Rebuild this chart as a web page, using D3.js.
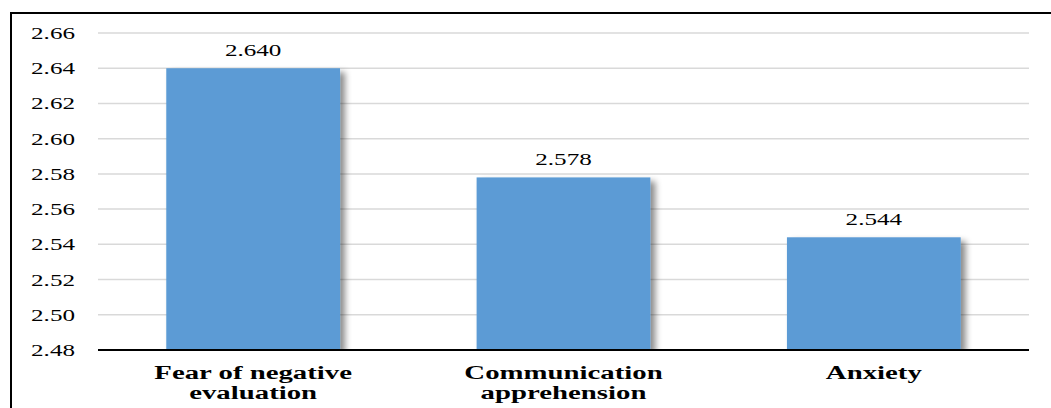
<!DOCTYPE html>
<html><head><meta charset="utf-8">
<script src="https://cdn.jsdelivr.net/npm/d3@7"></script>
<style>body{margin:0;background:#fff;}svg{display:block;}</style>
</head><body>
<svg id="c" width="1051" height="408"></svg>
<script>
const categories = ["Fear of negative evaluation", "Communication apprehension", "Anxiety"];
const categoryLines = [["Fear of negative", "evaluation"], ["Communication", "apprehension"], ["Anxiety"]];
const values = [2.640, 2.578, 2.544];
const valueLabels = ["2.640", "2.578", "2.544"];
const yTicks = [2.48, 2.50, 2.52, 2.54, 2.56, 2.58, 2.60, 2.62, 2.64, 2.66];

const svg = d3.select("#c");
const W = 1051, H = 408;
const m = {left: 98, right: 22, top: 33, bottom: 58};
const x = d3.scaleBand().domain(categories).range([m.left, W - m.right]).paddingInner(0.44).paddingOuter(0.22);
const y = d3.scaleLinear().domain([2.48, 2.66]).range([H - m.bottom, m.top]);
const sx = 1.57;

// frame
svg.append("rect").attr("x", 11).attr("y", 13).attr("width", 1100).attr("height", 500)
  .attr("fill", "none").attr("stroke", "#000").attr("stroke-width", 2);

// shadow filter + clip
const defs = svg.append("defs");
const f = defs.append("filter").attr("id", "sh").attr("x", "-10%").attr("y", "-10%").attr("width", "130%").attr("height", "130%");
f.append("feDropShadow").attr("dx", 5).attr("dy", 4).attr("stdDeviation", 3)
  .attr("flood-color", "#000").attr("flood-opacity", 0.45);
defs.append("clipPath").attr("id", "cp").append("rect")
  .attr("x", m.left).attr("y", 0).attr("width", W - m.left - m.right).attr("height", y(2.48));

// gridlines
svg.append("g").selectAll("line").data(yTicks.slice(1)).join("line")
  .attr("x1", m.left).attr("x2", W - m.right)
  .attr("y1", d => y(d)).attr("y2", d => y(d))
  .attr("stroke", "#d9d9d9").attr("stroke-width", 1.5);

// tick labels
svg.append("g").selectAll("text").data(yTicks).join("text")
  .attr("transform", d => `translate(75,${y(d) + 6}) scale(${sx},1)`)
  .attr("text-anchor", "end")
  .attr("font-family", "Liberation Serif, Times New Roman, serif")
  .attr("font-size", 16).attr("fill", "#000")
  .text(d => d.toFixed(2));

// bars
svg.append("g").attr("clip-path", "url(#cp)").selectAll("rect").data(values).join("rect")
  .attr("x", (d, i) => x(categories[i]))
  .attr("y", d => y(d))
  .attr("width", x.bandwidth())
  .attr("height", d => y(2.48) - y(d))
  .attr("fill", "#5b9bd5")
  .attr("filter", "url(#sh)");

// axis line
svg.append("line").attr("x1", m.left).attr("x2", W - m.right)
  .attr("y1", y(2.48)).attr("y2", y(2.48))
  .attr("stroke", "#000").attr("stroke-width", 2);

// value labels
svg.append("g").selectAll("text").data(values).join("text")
  .attr("transform", (d, i) => `translate(${x(categories[i]) + x.bandwidth() / 2},${y(d) - 12}) scale(${sx},1)`)
  .attr("text-anchor", "middle")
  .attr("font-family", "Liberation Serif, Times New Roman, serif")
  .attr("font-size", 16).attr("fill", "#000")
  .text((d, i) => valueLabels[i]);

// category labels
categoryLines.forEach((lines, i) => {
  const cx = x(categories[i]) + x.bandwidth() / 2;
  lines.forEach((ln, j) => {
    svg.append("text")
      .attr("transform", `translate(${cx},${y(2.48) + 29 + j * 20}) scale(1.6,1)`)
      .attr("text-anchor", "middle")
      .attr("font-family", "Liberation Serif, Times New Roman, serif")
      .attr("font-weight", "bold").attr("font-size", 18).attr("fill", "#000")
      .text(ln);
  });
});
</script>
</body></html>
